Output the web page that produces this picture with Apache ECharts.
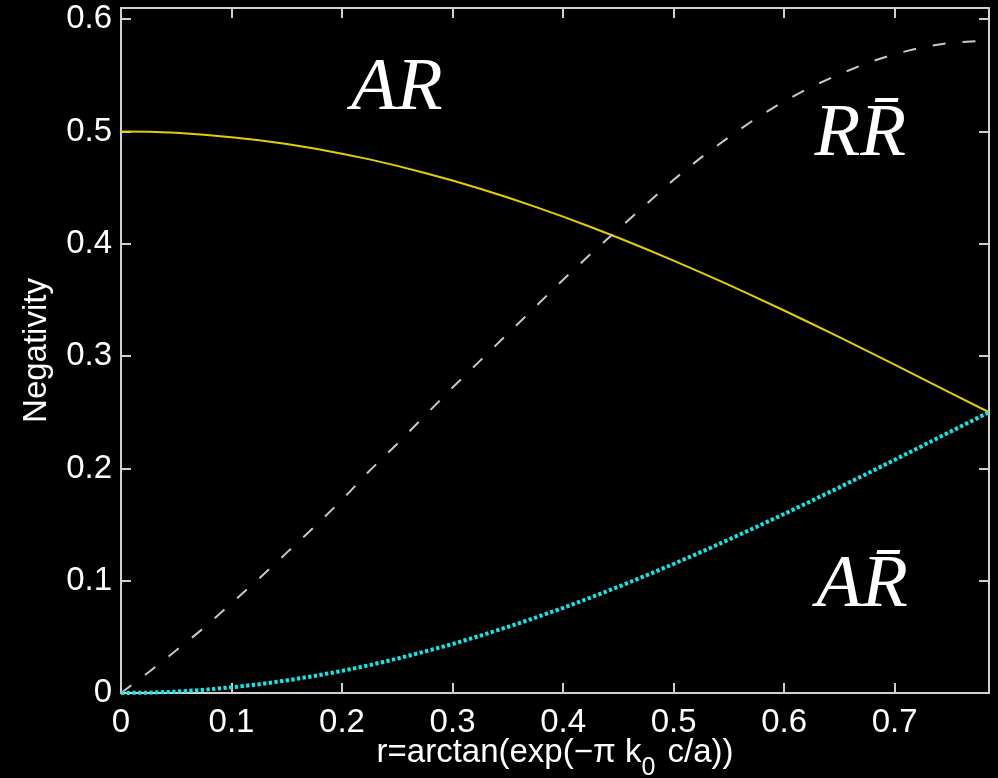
<!DOCTYPE html>
<html>
<head>
<meta charset="utf-8">
<script src="https://cdn.jsdelivr.net/npm/echarts@6/dist/echarts.min.js"></script>
<style>
  html, body { margin: 0; padding: 0; background: #000; }
  #chart { width: 998px; height: 778px; }
</style>
</head>
<body>
<div id="chart"></div>
<script>
// r = arctan(exp(-pi k0 c/a))
const rValues = [
  0, 0.025, 0.05, 0.075, 0.1, 0.125, 0.15, 0.175, 0.2, 0.225, 0.25, 0.275, 0.3, 0.325, 0.35, 0.375,
  0.4, 0.425, 0.45, 0.475, 0.5, 0.525, 0.55, 0.575, 0.6, 0.625, 0.65, 0.675, 0.7, 0.725, 0.75, 0.7854,
]
// AR (yellow solid)
const arValues = [
  0.5, 0.4997, 0.4988, 0.4972, 0.495, 0.4922, 0.4888, 0.4848, 0.4803, 0.4752, 0.4694, 0.4631, 0.4564, 0.449, 0.4412, 0.4329,
  0.4242, 0.415, 0.4054, 0.3954, 0.3851, 0.3744, 0.3634, 0.3521, 0.3406, 0.3288, 0.3169, 0.3047, 0.2924, 0.28, 0.2675, 0.25,
]
// R R-bar (white dashed)
const rrBarValues = [
  0, 0.0185, 0.038, 0.058, 0.08, 0.102, 0.125, 0.148, 0.172, 0.198, 0.222, 0.247, 0.272, 0.296, 0.32, 0.344,
  0.368, 0.391, 0.413, 0.435, 0.457, 0.477, 0.495, 0.512, 0.527, 0.54, 0.551, 0.561, 0.569, 0.575, 0.579, 0.581,
]
// A R-bar (cyan dotted)
const arBarValues = [
  0, 0.0003, 0.0012, 0.0028, 0.005, 0.0078, 0.0112, 0.0152, 0.0197, 0.0248, 0.0306, 0.0369, 0.0436, 0.051, 0.0588, 0.0671,
  0.0758, 0.085, 0.0946, 0.1046, 0.1149, 0.1256, 0.1366, 0.1479, 0.1594, 0.1712, 0.1831, 0.1953, 0.2076, 0.22, 0.2325, 0.25,
]

const xTicks = [0, 0.1, 0.2, 0.3, 0.4, 0.5, 0.6, 0.7]
const yTicks = [0, 0.1, 0.2, 0.3, 0.4, 0.5, 0.6]
const xMax = 0.7854
const yMax = 0.61

// curve labels, anchored in data coordinates
const notes = [
  { text: 'AR', r: 0.2495, v: 0.538 },
  { text: 'RR\u0304', r: 0.669, v: 0.497 },
  { text: 'AR\u0304', r: 0.6705, v: 0.0948 },
]

const AXIS_COLOR = '#d0d0d0'
const LABEL_FONT = 'Liberation Sans'
const LABEL_SIZE = 33

const pair = (ys) => rValues.map((r, i) => [r, ys[i]])
const tickLabel = (list) => (v) => {
  const hit = list.find((t) => Math.abs(t - v) < 1e-9)
  return hit === undefined ? '' : String(hit)
}

const buildAxis = (pos, max, ticks, showLabel) => ({
  type: 'value',
  position: pos,
  min: 0,
  max,
  interval: 0.1,
  splitLine: { show: false },
  axisLine: { show: true, onZero: false, lineStyle: { color: AXIS_COLOR, width: 2 } },
  axisTick: { show: true, inside: true, length: 10, lineStyle: { color: AXIS_COLOR, width: 2 } },
  axisLabel: {
    show: showLabel,
    showMaxLabel: false,
    color: '#ffffff',
    fontFamily: LABEL_FONT,
    fontSize: LABEL_SIZE,
    margin: pos === 'bottom' ? 13 : 9,
    formatter: tickLabel(ticks),
  },
})

const chart = echarts.init(document.getElementById('chart'))

const option = {
  backgroundColor: '#000000',
  animation: false,
  grid: { left: 121, right: 9, top: 8, bottom: 85, outerBoundsMode: 'none', containLabel: false },
  xAxis: [
    {
      ...buildAxis('bottom', xMax, xTicks, true),
      name: 'r=arctan(exp(\u2212\u03c0 k{s|0} c/a))',
      nameLocation: 'middle',
      nameGap: 31,
      nameMoveOverlap: false,
      nameTextStyle: {
        color: '#ffffff',
        fontFamily: LABEL_FONT,
        fontSize: LABEL_SIZE,
        rich: { s: { fontSize: 25, fontFamily: LABEL_FONT, color: '#ffffff', padding: [32, 3, 0, 0] } },
      },
    },
    buildAxis('top', xMax, xTicks, false),
  ],
  yAxis: [
    {
      ...buildAxis('left', yMax, yTicks, true),
      name: 'Negativity',
      nameLocation: 'middle',
      nameGap: 68,
      nameMoveOverlap: false,
      nameTextStyle: { color: '#ffffff', fontFamily: LABEL_FONT, fontSize: LABEL_SIZE },
    },
    buildAxis('right', yMax, yTicks, false),
  ],
  series: [
    {
      type: 'line',
      data: pair(arValues),
      showSymbol: false,
      lineStyle: { color: '#e0d000', width: 2 },
    },
    {
      type: 'line',
      data: pair(rrBarValues),
      showSymbol: false,
      lineStyle: { color: '#c8c8c8', width: 2, type: [13, 17] },
    },
    {
      type: 'line',
      data: pair(arBarValues),
      showSymbol: false,
      lineStyle: { color: '#10e8e8', width: 4, type: [3.3, 2.4], cap: 'butt' },
    },
  ],
}

chart.setOption(option)

// place the curve labels once the scales exist
chart.setOption({
  graphic: notes.map((n) => {
    const [x, y] = chart.convertToPixel({ gridIndex: 0 }, [n.r, n.v])
    return {
      type: 'text',
      x,
      y,
      style: {
        text: n.text,
        fill: '#ffffff',
        font: 'italic 75px "Liberation Serif"',
        align: 'center',
        verticalAlign: 'middle',
      },
    }
  }),
})
</script>
</body>
</html>
